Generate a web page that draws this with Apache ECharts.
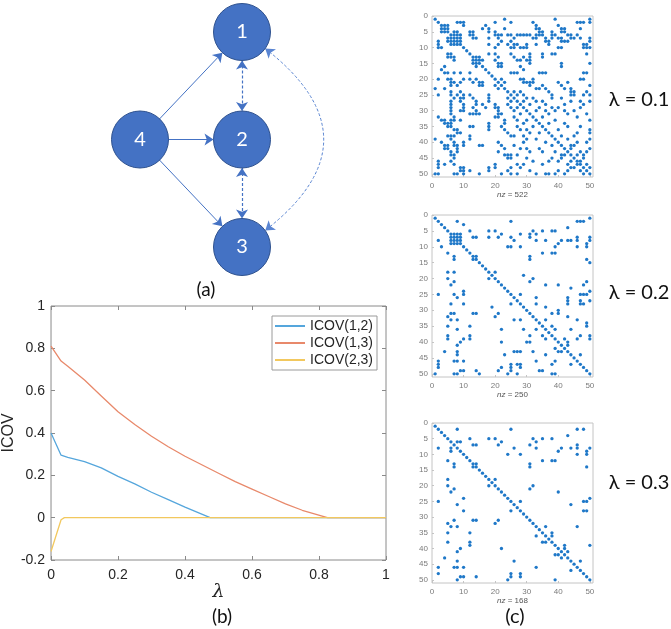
<!DOCTYPE html>
<html><head><meta charset="utf-8">
<script src="https://cdn.jsdelivr.net/npm/echarts@6/dist/echarts.min.js"></script>
<style>html,body{margin:0;padding:0;background:#fff}#c{width:671px;height:629px}</style>
</head><body><div id="c"></div><script>
// ---------- panel (a): graph ----------
const nodeNames = ['1','2','3','4'];
const nodePos = { '1':[1,2], '2':[1,1], '3':[1,0], '4':[0,1] };
const directedEdges = [['4','1'],['4','2'],['4','3']];
const dashedEdges = [['1','2'],['2','3']];
const curvedEdges = [['1','3']];

// ---------- panel (b): ICOV paths ----------
const seriesNames = ['ICOV(1,2)','ICOV(1,3)','ICOV(2,3)'];
const lam12 = [0, 0.03, 0.05, 0.1, 0.15, 0.2, 0.25, 0.3, 0.35, 0.4, 0.475, 1];
const icov12 = [0.40, 0.295, 0.285, 0.265, 0.235, 0.195, 0.16, 0.12, 0.085, 0.05, 0, 0];
const lam13 = [0, 0.03, 0.05, 0.1, 0.15, 0.2, 0.25, 0.3, 0.35, 0.4, 0.45, 0.5, 0.55, 0.6, 0.65, 0.7, 0.75, 0.825, 1];
const icov13 = [0.81, 0.74, 0.715, 0.65, 0.575, 0.50, 0.44, 0.385, 0.335, 0.29, 0.25, 0.21, 0.17, 0.135, 0.10, 0.065, 0.035, 0, 0];
const lam23 = [0, 0.03, 0.04, 1];
const icov23 = [-0.16, -0.01, 0, 0];
const xTicks = ['0','0.2','0.4','0.6','0.8','1'];

// ---------- panel (c): sparsity patterns (symmetric pairs i<j plus diagonal) ----------
const lambdaLabels = ['\u03bb = 0.1','\u03bb = 0.2','\u03bb = 0.3'];
const nzLabels = ['522','250','168'];
const diagIdx = [1,2,3,4,5,6,7,8,9,10,11,12,13,14,15,16,17,18,19,20,21,22,23,24,25,26,27,28,29,30,31,32,33,34,35,36,37,38,39,40,41,42,43,44,45,46,47,48,49,50];
const pairs01 = [
[3,4],[3,5],[4,5],[6,7],[6,8],[6,9],[7,8],[7,9],[8,9],[5,7],[5,8],[2,8],[2,9],[2,10],[3,10],[5,12],[6,12],[5,13],[6,13],[7,13],[7,14],[13,14],[13,15],[14,15],[14,16],[4,16],[3,17],[4,18],[5,18],[7,18],[9,18],[12,18],[2,20],[5,20],[6,20],[10,20],[12,20],[14,20],[6,21],[7,21],[9,21],[13,21],[15,21],[16,21],[6,22],[8,22],[15,22],[16,22],[1,23],[4,23],[20,22],[21,23],
[6,24],[9,24],[2,25],[6,25],[8,25],[10,25],[12,25],[18,25],[7,26],[9,26],[10,26],[13,26],[18,26],[24,26],[6,27],[9,27],[14,27],[18,27],[25,27],[6,28],[10,28],[14,28],[16,28],[20,28],[24,28],[6,29],[10,29],[13,29],[17,29],[20,29],[21,29],[25,29],[9,30],[6,30],[10,30],[14,30],[21,30],[26,30],[6,31],[12,31],[13,31],[14,31],[15,31],[21,31],[22,31],[2,32],[7,32],[20,32],[21,32],[3,33],[4,33],[6,33],[7,33],[9,33],[23,33],[4,34],[5,34],[6,34],[18,34],[23,34],[5,35],[6,35],[12,35],[13,35],[18,35],[22,35],[27,35],[7,36],[8,36],[18,36],[23,36],[28,36],[8,37],[9,37],[24,37],[5,38],[6,38],[7,38],[12,38],[25,38],[29,38],[1,39],[6,39],[12,39],[30,39],[3,40],[7,40],[10,40],[21,40],[4,41],[5,41],[7,41],[8,41],[10,41],[15,41],[16,41],[22,41],[4,42],[5,42],[8,42],[23,42],[28,42],[30,42],[6,43],[8,43],[21,43],[31,43],[6,44],[7,44],[23,44],[24,44],[25,44],[7,45],[24,45],[25,45],[2,46],[6,46],[2,47],[4,47],[7,47],[20,47],[27,47],[2,48],[9,48],[10,48],[18,48],[20,48],[25,48],[28,48],[9,49],[10,49],[12,49],[18,49],[24,49],[1,50],[2,50],[7,50],[8,50],[10,50],[15,50],[22,50],[25,50],[27,50],
[36,50],[37,50],[39,50],[40,49],[42,50],[43,49],[45,48],[47,49],[48,50],[35,47],[37,46],[40,46],[38,45],[41,45],[43,47],[42,44],[44,48],[46,47],[34,42],[35,43],[36,40],[38,41],[33,39],[34,37],[39,43],[41,44],[44,46],[29,34],[30,36],[31,37],[32,35],[27,33],[26,32],[28,31],[27,29],[30,45],[31,49],[26,41],[27,44],[29,47],[32,46],[33,50],[26,38],[29,40],[30,33]
];
const pairs02 = [
[2,8],[3,10],[6,7],[6,8],[6,9],[7,8],[7,9],[8,9],[5,12],[7,13],[7,14],[13,14],[5,18],[7,18],[5,20],[18,20],[7,21],[6,22],[10,24],[10,25],[2,25],[7,25],[8,26],[6,28],[10,28],[25,28],[19,29],[6,31],[7,31],[13,31],[14,31],[21,31],[5,32],[20,32],[6,33],[8,33],[26,33],[28,33],[5,35],[12,35],[8,36],[22,36],[33,36],[5,38],[5,39],[12,38],[12,39],[10,39],[35,38],[9,40],[22,40],[30,40],[31,40],[8,41],[4,43],[8,43],[8,44],[28,43],[26,43],[23,44],[36,44],[2,46],[2,47],[2,48],[7,46],[8,46],[10,46],[33,46],[39,46],[22,48],[25,48],[28,48],[9,49],[10,49],[14,49],[21,49],[25,49],[35,49],[7,50],[8,50],[1,50],[15,50],[24,50],[27,50],[39,50],[38,47],[38,50],[40,43],[32,43],[34,49],[31,38],[29,36],[36,39],[27,43],[27,47],[28,47],[25,47],[39,42],[41,43],[44,47]
];
const pairs03 = [
[2,8],[6,8],[6,9],[5,12],[7,13],[7,14],[5,18],[5,20],[18,20],[7,21],[6,22],[10,24],[2,25],[8,26],[10,28],[25,28],[7,31],[13,31],[14,31],[21,31],[5,32],[20,32],[6,33],[8,33],[33,36],[5,35],[12,35],[35,38],[5,38],[12,38],[12,39],[9,40],[22,40],[8,41],[39,42],[4,43],[41,43],[8,44],[26,44],[2,46],[8,46],[10,46],[33,46],[2,48],[25,48],[28,48],[9,49],[10,49],[14,49],[25,49],[28,49],[8,50],[24,50],[39,50],[7,46],[40,42],[44,47],[36,38],[13,14]
];

function spyPoints(pairs){
  const pts = [];
  diagIdx.forEach(k => pts.push([k,k]));
  pairs.forEach(p => { pts.push([p[0],p[1]]); pts.push([p[1],p[0]]); });
  return pts;
}
function zip(xs, ys){ return xs.map((x,i)=>[x,ys[i]]); }

const chart = echarts.init(document.getElementById('c'), null, {renderer:'canvas'});

const nodeBlue = '#4472C4';
const spyGrids = [
  {left:432, top:16, width:161, height:161},
  {left:432, top:215, width:161, height:162},
  {left:432, top:423, width:161, height:160}
];
const spyColor = '#1f78c8';
const LF = 'Liberation Sans';

const grids = [
  {left:140, top:32, width:102, height:215, show:false},
  {left:51, top:306, width:335, height:254, show:true, borderColor:'#8a8a8a', borderWidth:1}
];
spyGrids.forEach(g => grids.push(Object.assign({show:true, borderColor:'#c4c4c4', borderWidth:1}, g)));

const tickStyle = {inside:true, length:4, lineStyle:{color:'#8a8a8a'}};
const xAxes = [
  {gridIndex:0, type:'value', min:0, max:1, show:false},
  {gridIndex:1, type:'value', min:0, max:1, interval:0.2, position:'bottom',
   axisLine:{show:false, onZero:false}, splitLine:{show:false},
   axisTick:tickStyle,
   axisLabel:{color:'#262626', fontSize:14, fontFamily:LF, margin:8, formatter:(v)=>xTicks[Math.round(v/0.2)]},
   name:'\u03bb', nameLocation:'middle', nameGap:17,
   nameTextStyle:{fontSize:19, fontStyle:'italic', fontFamily:'DejaVu Serif', color:'#262626'}},
  {gridIndex:1, type:'value', min:0, max:1, interval:0.2, position:'top',
   axisLine:{show:false, onZero:false}, splitLine:{show:false}, axisLabel:{show:false},
   axisTick:tickStyle}
];
const yAxes = [
  {gridIndex:0, type:'value', min:0, max:2, show:false},
  {gridIndex:1, type:'value', min:-0.2, max:1, interval:0.2, position:'left',
   axisLine:{show:false, onZero:false}, splitLine:{show:false},
   axisTick:tickStyle,
   axisLabel:{color:'#262626', fontSize:14, fontFamily:LF, margin:6,
     formatter:(v)=>{const r=Math.round(v*10)/10; return r===0?'0':String(r);}},
   name:'ICOV', nameLocation:'middle', nameGap:32,
   nameTextStyle:{fontSize:16, fontFamily:LF, color:'#262626'}},
  {gridIndex:1, type:'value', min:-0.2, max:1, interval:0.2, position:'right',
   axisLine:{show:false, onZero:false}, splitLine:{show:false}, axisLabel:{show:false},
   axisTick:tickStyle}
];
spyGrids.forEach((g,k) => {
  xAxes.push({gridIndex:2+k, type:'value', min:0, max:51, interval:10, position:'bottom',
    axisLine:{show:false, onZero:false}, splitLine:{show:false},
    axisTick:{inside:true, length:2, lineStyle:{color:'#c4c4c4'}},
    axisLabel:{color:'#7a7a7a', fontSize:8, fontFamily:LF, margin:5, showMaxLabel:false},
    name:'{i|nz} = ' + nzLabels[k], nameLocation:'middle', nameGap:14,
    nameTextStyle:{fontSize:8, color:'#555', fontFamily:LF, rich:{i:{fontStyle:'italic', fontSize:8, color:'#555', fontFamily:LF}}}});
  yAxes.push({gridIndex:2+k, type:'value', min:0, max:51, interval:5, inverse:true, position:'left',
    axisLine:{show:false, onZero:false}, splitLine:{show:false},
    axisTick:{inside:true, length:2, lineStyle:{color:'#c4c4c4'}},
    axisLabel:{color:'#7a7a7a', fontSize:8, fontFamily:LF, margin:4, showMaxLabel:false}});
});

const links = [];
directedEdges.forEach(e => links.push({source:e[0], target:e[1], symbol:['none','arrow'], symbolSize:[0,9],
  lineStyle:{color:nodeBlue, width:1, type:'solid', curveness:0, opacity:1}}));
dashedEdges.forEach(e => links.push({source:e[0], target:e[1], symbol:['arrow','arrow'], symbolSize:[9,9],
  lineStyle:{color:nodeBlue, width:1.2, type:[3,2], curveness:0, opacity:1}}));
curvedEdges.forEach(e => links.push({source:e[0], target:e[1], symbol:['arrow','arrow'], symbolSize:[9,9],
  lineStyle:{color:'#5a85d2', width:1, type:[3,2], curveness:0.76, opacity:1}}));

const series = [
  {type:'graph', coordinateSystem:'cartesian2d', xAxisIndex:0, yAxisIndex:0,
   symbol:'circle', symbolSize:57, z:3,
   itemStyle:{color:nodeBlue, borderColor:'#2F528F', borderWidth:1},
   lineStyle:{opacity:1},
   label:{show:true, position:'inside', color:'#fff', fontSize:20, fontFamily:'Lato'},
   data: nodeNames.map(n => ({name:n, value:nodePos[n]})),
   links: links,
   emphasis:{disabled:true}},
  {type:'line', name:seriesNames[0], xAxisIndex:1, yAxisIndex:1, symbol:'none', data:zip(lam12, icov12),
   lineStyle:{width:1.3, color:'#55a6dc'}, itemStyle:{color:'#55a6dc'}, z:4},
  {type:'line', name:seriesNames[1], xAxisIndex:1, yAxisIndex:1, symbol:'none', data:zip(lam13, icov13),
   lineStyle:{width:1.3, color:'#e8896b'}, itemStyle:{color:'#e8896b'}, z:3},
  {type:'line', name:seriesNames[2], xAxisIndex:1, yAxisIndex:1, symbol:'none', data:zip(lam23, icov23),
   lineStyle:{width:1.3, color:'#f2c85e'}, itemStyle:{color:'#f2c85e'}, z:5}
];
[pairs01, pairs02, pairs03].forEach((p,k) => series.push({
  type:'scatter', xAxisIndex:3+k, yAxisIndex:3+k, symbol:'circle', symbolSize:3.3,
  itemStyle:{color:spyColor, opacity:1}, data:spyPoints(p), silent:true}));

const txt = (x,y,t,size,extra) => ({type:'text', x:x, y:y,
  style:Object.assign({text:t, fontSize:size, fontFamily:'Lato', fill:'#111', align:'center', verticalAlign:'middle'}, extra||{})});

chart.setOption({
  animation:false,
  backgroundColor:'#fff',
  grid: grids,
  xAxis: xAxes,
  yAxis: yAxes,
  legend:{left:272, top:316, orient:'vertical', icon:'rect', itemWidth:30, itemHeight:2, itemGap:3,
    padding:[3,4,3,3], borderColor:'#9a9a9a', borderWidth:1, backgroundColor:'#fff',
    textStyle:{fontSize:14, color:'#262626', fontFamily:LF}, data:seriesNames},
  graphic:[
    txt(206,290,'(a)',19),
    txt(222,617,'(b)',19),
    txt(515,617,'(c)',20),
    txt(639,100,lambdaLabels[0],20),
    txt(639,293,lambdaLabels[1],20),
    txt(639,483,lambdaLabels[2],20)
  ],
  series: series
});
</script></body></html>
